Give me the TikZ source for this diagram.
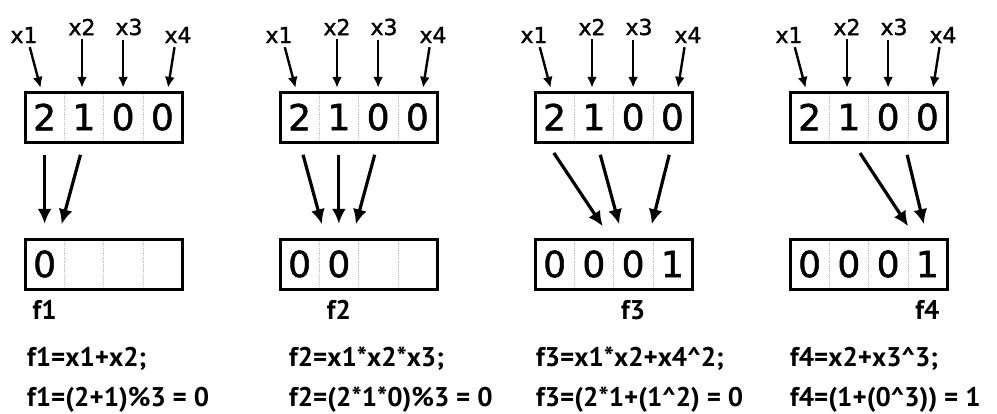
\documentclass[tikz,border=0pt]{standalone}
\usepackage{fontspec}
\setmainfont{Liberation Sans}
\newfontfamily\digitfont[FakeBold=1.4]{DejaVu Sans}
\newfontfamily\formfont{PT Sans}
\usetikzlibrary{arrows.meta, positioning, calc}

\tikzset{
  regbox/.style={draw, line width=3pt, minimum width=157pt,
                 minimum height=50pt, inner sep=0pt},
  cell/.style={minimum width=39.25pt, minimum height=50pt, inner sep=0pt,
               font=\digitfont\fontsize{36}{36}\selectfont},
  divider/.style={gray!50, densely dotted, line width=0.8pt,
                  shorten <=2pt, shorten >=2pt},
  varlabel/.style={font=\digitfont\fontsize{22}{22}\selectfont, inner sep=1pt},
  inarrow/.style={-{Latex[length=11pt,width=10pt]}, line width=2.4pt,
                  shorten <=3pt, shorten >=4pt},
  maparrow/.style={-{Latex[length=15pt,width=14pt]}, line width=3.2pt,
                   shorten <=13pt, shorten >=15pt},
  fname/.style={font=\formfont\bfseries\fontsize{27}{27}\selectfont,
                inner sep=0pt},
  formula/.style={fname, anchor=base west}
}

\begin{document}
\begin{tikzpicture}[x=1pt, y=-1pt]
  \useasboundingbox (0,0) rectangle (997,413);

  \foreach \p/\ox/\ba/\bb/\bc/\bd in
      {1/25/0/{}/{}/{}, 2/280/0/0/{}/{}, 3/535/0/0/0/1, 4/790/0/0/0/1} {
    % input register
    \node[regbox] (top\p) at (\ox+78.5,117) {};
    \foreach \i/\d in {1/2, 2/1, 3/0, 4/0}
      \node[cell] (t\p-\i) at (\ox-19.625+39.25*\i,117) {\d};
    \foreach \i in {1,2,3}
      \draw[divider] (t\p-\i.north east) -- (t\p-\i.south east);

    % variables feeding the register
    \node[varlabel] (x\p-1) at (\ox-1,35) {x1};
    \node[varlabel] (x\p-2) at (\ox+57,27) {x2};
    \node[varlabel] (x\p-3) at (\ox+104,27) {x3};
    \node[varlabel] (x\p-4) at (\ox+153,35) {x4};
    \draw[inarrow] ([xshift=5pt]x\p-1.south) -- ([xshift=-3pt]t\p-1.north);
    \draw[inarrow] (x\p-2.south) -- (x\p-2.south |- t\p-2.north);
    \draw[inarrow] (t\p-3.north |- x\p-3.south) -- (t\p-3.north);
    \draw[inarrow] ([xshift=-3pt]x\p-4.south) -- ([xshift=5pt]t\p-4.north);

    % output register
    \node[regbox] (bot\p) at (\ox+78.5,264) {};
    \node[cell] (b\p-1) at (\ox+19.625,264) {\ba};
    \node[cell] (b\p-2) at (\ox+58.875,264) {\bb};
    \node[cell] (b\p-3) at (\ox+98.125,264) {\bc};
    \node[cell] (b\p-4) at (\ox+137.375,264) {\bd};
    \foreach \i in {1,2,3}
      \draw[divider] (b\p-\i.north east) -- (b\p-\i.south east);
    \node[fname, below=11pt of b\p-\p] (f\p) {f\p};
  }

  % which inputs each function reads
  \draw[maparrow] (t1-1.south) -- (b1-1.north);
  \draw[maparrow] (t1-2.south) -- ([xshift=13pt]b1-1.north);
  \draw[maparrow] (t2-1.south) -- ([xshift=-13pt]b2-2.north);
  \draw[maparrow] (t2-2.south) -- (b2-2.north);
  \draw[maparrow] (t2-3.south) -- ([xshift=13pt]b2-2.north);
  \draw[maparrow] ([xshift=-8pt]t3-1.south) -- ([xshift=-22pt]b3-3.north);
  \draw[maparrow] ([xshift=3pt]t3-2.south) -- ([xshift=-10pt]b3-3.north);
  \draw[maparrow] (t3-4.south) -- ([xshift=15pt]b3-3.north);
  \draw[maparrow] ([xshift=4pt]t4-2.south) -- ([xshift=-11pt]b4-4.north);
  \draw[maparrow] ([xshift=16pt]t4-3.south) -- (b4-4.north);

  % formulas
  \node[formula] (e1a) at (27,366) {f1=x1+x2;};
  \node[formula] (e1b) at (27,406) {f1=(2+1)\%3 = 0};
  \node[formula] (e2a) at (289,366) {f2=x1*x2*x3;};
  \node[formula] (e2b) at (289,406) {f2=(2*1*0)\%3 = 0};
  \node[formula] (e3a) at (536,366) {f3=x1*x2+x4\textasciicircum2;};
  \node[formula] (e3b) at (536,406) {f3=(2*1+(1\textasciicircum2) = 0};
  \node[formula] (e4a) at (790,366) {f4=x2+x3\textasciicircum3;};
  \node[formula] (e4b) at (790,406) {f4=(1+(0\textasciicircum3)) = 1};
\end{tikzpicture}
\end{document}
